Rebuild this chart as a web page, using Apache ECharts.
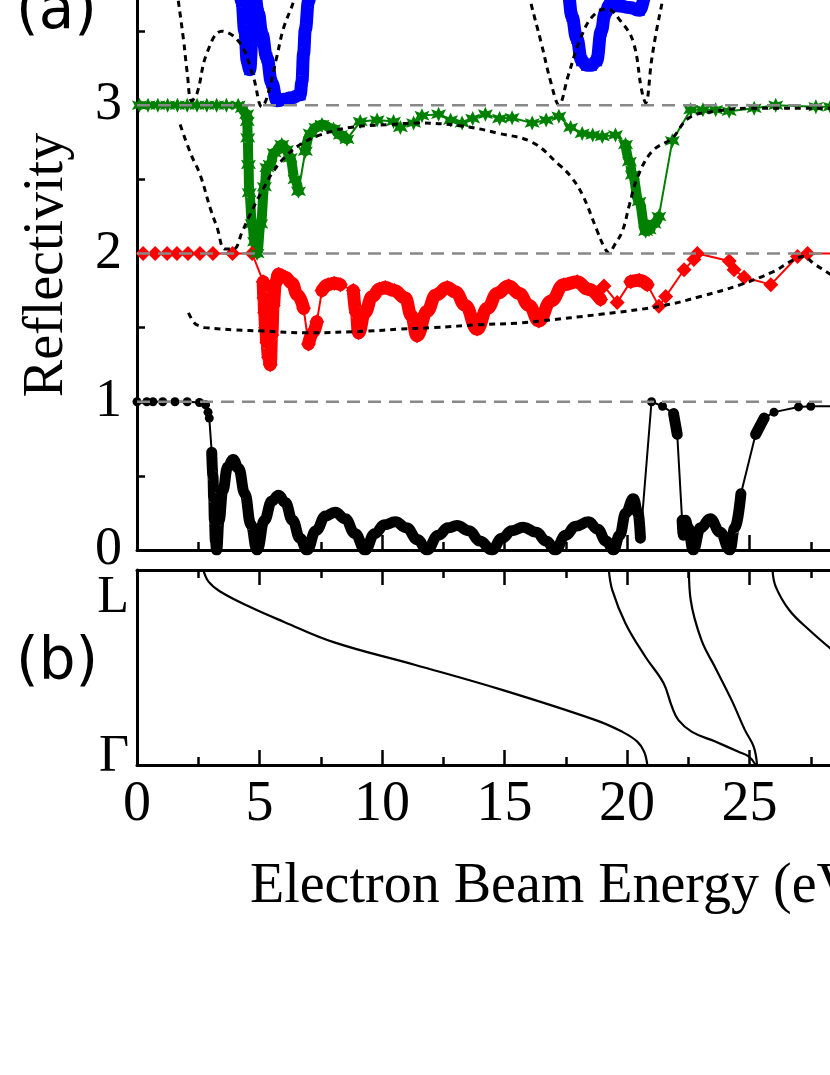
<!DOCTYPE html>
<html>
<head>
<meta charset="utf-8">
<script src="https://cdn.jsdelivr.net/npm/echarts@6/dist/echarts.min.js"></script>
<style>
html, body { margin: 0; padding: 0; width: 830px; height: 1075px; overflow: hidden; background: #fff; }
/* the figure is cropped on the top and right, so the canvas is a bit bigger than the window */
#chart { position: absolute; left: 0; top: -60px; width: 900px; height: 1135px; }
</style>
</head>
<body>
<div id="chart"></div>
<script>
// (a) measured reflectivity, each curve shifted up by 0, 1, 2, 3
const black = [[0,1],[0.4,1],[0.65,1],[1.05,1],[1.55,1],[2.05,1],[2.55,0.995],[2.8,0.98],[2.9,0.93],[2.95,0.89],[3.05,0.66],[3.1,0.5],[3.13,0.35],[3.16,0.2],[3.2,0.06],[3.25,0],[3.35,0.2],[3.5,0.4],[3.7,0.56],[3.92,0.61],[4.15,0.55],[4.4,0.38],[4.65,0.17],[4.9,0],[5.2,0.2],[5.5,0.33],[5.78,0.37],[6.05,0.32],[6.35,0.2],[6.65,0.08],[6.94,0],[7.3,0.13],[7.7,0.23],[8.09,0.255],[8.5,0.21],[8.9,0.11],[9.31,0],[9.7,0.11],[10.1,0.17],[10.54,0.19],[11.0,0.15],[11.45,0.07],[11.83,0],[12.3,0.1],[12.7,0.15],[13.06,0.165],[13.55,0.13],[14.0,0.06],[14.48,0],[14.9,0.08],[15.3,0.13],[15.77,0.154],[16.3,0.12],[16.7,0.06],[17.07,0],[17.5,0.1],[17.9,0.16],[18.43,0.19],[18.8,0.14],[19.15,0.06],[19.45,0],[19.7,0.1],[19.95,0.25],[20.26,0.345],[20.45,0.25],[20.55,0.08],[21.0,1.0],[21.45,0.97],[21.9,0.92],[22.05,0.78],[22.25,0.2],[22.3,0.1],[22.38,0.2],[22.5,0.15],[22.7,0],[23.0,0.15],[23.4,0.21],[23.8,0.12],[24.2,0],[24.4,0.15],[24.65,0.38],[25.25,0.78],[25.6,0.89],[26.0,0.93],[27.0,0.965],[27.5,0.97],[30,0.97]];
const red = [[0.25,2],[0.74,2],[1.23,2],[1.63,2],[2.08,2],[2.57,2],[3.1,2],[3.9,2],[4.7,2],[5.15,1.81],[5.18,1.7],[5.21,1.6],[5.25,1.5],[5.3,1.4],[5.37,1.3],[5.44,1.25],[5.5,1.45],[5.56,1.65],[5.65,1.8],[5.78,1.86],[6.05,1.84],[6.32,1.8],[6.55,1.72],[6.8,1.63],[7.0,1.39],[7.2,1.47],[7.34,1.54],[7.55,1.75],[7.8,1.79],[8.05,1.8],[8.3,1.79],[8.83,1.75],[8.95,1.6],[9.04,1.465],[9.3,1.6],[9.6,1.71],[9.9,1.76],[10.13,1.77],[10.5,1.75],[10.95,1.7],[11.2,1.58],[11.43,1.445],[11.84,1.61],[12.2,1.72],[12.66,1.77],[13.0,1.74],[13.4,1.65],[13.88,1.49],[14.3,1.63],[14.7,1.73],[15.17,1.78],[15.6,1.73],[16.0,1.65],[16.4,1.545],[16.9,1.68],[17.42,1.79],[17.97,1.81],[18.4,1.76],[18.92,1.69],[19.06,1.78],[19.6,1.67],[20.15,1.81],[20.5,1.82],[20.83,1.79],[21.3,1.645],[21.58,1.71],[22.33,1.89],[22.73,1.96],[22.87,2.0],[24.17,1.95],[24.37,1.89],[24.78,1.84],[25.87,1.79],[26.96,1.98],[27.37,2.0],[30,2.0]];
const green = [[0.1,3],[0.45,3],[0.85,3],[1.25,3],[1.65,3],[2.05,3],[2.45,3],[2.85,3],[3.25,3],[3.65,3],[4.13,3],[4.3,2.98],[4.48,2.94],[4.5,2.89],[4.52,2.78],[4.55,2.6],[4.58,2.41],[4.7,2.2],[4.8,2.08],[4.9,2.0],[5.05,2.2],[5.2,2.45],[5.3,2.58],[5.43,2.6],[5.6,2.68],[5.91,2.735],[6.1,2.7],[6.25,2.645],[6.45,2.5],[6.59,2.42],[6.87,2.69],[7.07,2.81],[7.3,2.85],[7.55,2.87],[8.02,2.84],[8.3,2.8],[8.57,2.77],[9.11,2.89],[9.8,2.9],[10.47,2.89],[10.75,2.85],[11.29,2.88],[11.63,2.93],[12.31,2.94],[12.8,2.9],[13.27,2.88],[13.7,2.91],[14.22,2.94],[14.8,2.91],[15.31,2.915],[16.13,2.88],[16.7,2.9],[17.22,2.925],[17.7,2.85],[18.17,2.81],[18.6,2.8],[18.99,2.79],[19.53,2.8],[19.94,2.735],[20.1,2.62],[20.22,2.53],[20.49,2.35],[20.76,2.15],[20.9,2.16],[21.1,2.2],[21.3,2.25],[21.85,2.76],[22.6,2.97],[23.1,2.97],[23.62,2.97],[24.17,2.96],[25.19,2.98],[26.07,3.0],[27.71,2.99],[28.3,2.99],[30,3]];
const blue = [[3.9,3.95],[4.15,3.8],[4.28,3.7],[4.4,3.5],[4.5,3.3],[4.6,3.24],[4.7,3.45],[4.8,3.75],[4.95,3.62],[5.1,3.48],[5.3,3.32],[5.5,3.15],[5.71,3.03],[6.0,3.04],[6.3,3.05],[6.66,3.07],[6.73,3.16],[6.8,3.35],[6.87,3.51],[7.0,3.7],[7.15,3.9],[17.4,3.95],[17.6,3.75],[17.75,3.6],[17.95,3.45],[18.15,3.3],[18.35,3.27],[18.55,3.27],[18.76,3.3],[18.95,3.5],[19.1,3.62],[19.3,3.68],[19.7,3.67],[20.1,3.66],[20.5,3.64],[20.8,3.75],[21.0,3.9]];

// energy ranges where the measured points are so dense they form a thick band
const blackBands = [[3.05, 20.56], [21.85, 22.06], [22.24, 24.66], [25.2, 25.7]];
const redBands = [[5.1, 6.81], [6.99, 7.35], [7.54, 8.31], [8.82, 18.93], [20.1, 20.9]];
const greenBands = [[4.29, 6.6], [6.86, 8.6], [19.93, 21.31]];
const blueBands = [[0, 30]];

// (a) calculated curves (dotted)
const calcRed = [[2.1,1.6],[2.35,1.53],[2.57,1.51],[2.78,1.5],[4.0,1.485],[5.16,1.477],[6.93,1.465],[9.39,1.477],[10.75,1.49],[12.11,1.5],[14.02,1.52],[15.52,1.53],[16.47,1.545],[18.92,1.59],[21.37,1.645],[23.0,1.71],[24.64,1.79],[26.0,1.88],[26.6,1.94],[26.96,1.97],[27.2,1.98],[27.64,1.93],[28.3,1.86],[29,1.78]];
const calcGreen = [[1.76,2.87],[2.2,2.67],[2.58,2.53],[3.0,2.3],[3.26,2.18],[3.6,2.03],[3.94,2.03],[4.3,2.15],[4.75,2.31],[5.1,2.42],[5.57,2.556],[6.1,2.66],[6.66,2.735],[7.48,2.8],[8.7,2.85],[10.34,2.87],[11.36,2.88],[13.27,2.86],[14.77,2.81],[16.13,2.75],[17.22,2.6],[17.7,2.52],[18.17,2.4],[18.79,2.15],[19.05,2.05],[19.26,2.005],[19.5,2.06],[19.81,2.15],[20.1,2.33],[20.42,2.51],[21.03,2.69],[21.85,2.78],[22.53,2.915],[23.62,2.96],[24.98,2.98],[28.3,2.98],[30,2.99]];
const calcBlue = [[1.45,4.0],[1.69,3.7],[1.9,3.44],[2.05,3.22],[2.23,3.03],[2.45,3.08],[2.85,3.35],[3.46,3.5],[4.2,3.42],[4.75,3.19],[5.1,2.99],[5.3,3.05],[5.71,3.33],[5.98,3.52],[6.39,3.7],[6.8,3.95],[15.7,3.95],[16.06,3.7],[16.5,3.42],[16.9,3.15],[17.22,3.005],[17.6,3.2],[18.1,3.45],[18.6,3.6],[19.18,3.65],[19.73,3.57],[20.25,3.43],[20.6,3.1],[20.76,3.016],[21.0,3.3],[21.2,3.5],[21.44,3.7],[21.7,3.95]];
const baselines = [1, 2, 3];

// (b) band structure, 0 = Γ, 1 = top of panel
const band1 = [[2.71,1.0],[2.92,0.94],[3.39,0.89],[4.62,0.81],[5.98,0.735],[8.02,0.63],[11.36,0.513],[14.9,0.385],[18.72,0.23],[19.81,0.17],[20.42,0.12],[20.7,0.068],[20.83,0.0]];
const band2 = [[19.26,1.0],[19.4,0.897],[19.94,0.726],[20.75,0.555],[21.49,0.42],[21.83,0.3],[22.1,0.23],[22.65,0.17],[23.6,0.12],[24.55,0.068],[24.98,0.043],[25.25,0]];
const band3 = [[22.53,1.0],[22.6,0.846],[23.04,0.64],[23.6,0.5],[24.28,0.33],[24.81,0.18],[25.17,0.094],[25.31,0]];
const band4 = [[25.94,1.0],[26.07,0.915],[26.62,0.795],[27.44,0.692],[28.3,0.598],[29.0,0.53]];

const OFF = 60; // canvas top offset
const serif = 'Liberation Serif';

// keep only points inside a dense range, with a gap wherever the range changes
function thickData(data, bands) {
  const idx = p => bands.findIndex(b => p[0] >= b[0] && p[0] <= b[1]);
  const out = [];
  data.forEach((p, i) => {
    const k = idx(p);
    if (i > 0 && k !== idx(data[i - 1])) out.push([(p[0] + data[i - 1][0]) / 2, '-']);
    out.push(k >= 0 ? p : [p[0], '-']);
  });
  return out;
}

function measured(data, bands, color, symbol, size, width) {
  return [
    {
      type: 'line', data: data, symbol: symbol, symbolSize: size, showSymbol: true,
      itemStyle: { color: color }, lineStyle: { color: color, width: 2 }
    },
    {
      type: 'line', data: thickData(data, bands), showSymbol: false, smooth: 0.45, smoothMonotone: 'x',
      lineStyle: { color: color, width: width, cap: 'round', join: 'round' }
    }
  ];
}

function calc(data) {
  return {
    type: 'line', data: data, showSymbol: false, smooth: 0.4, z: 5,
    lineStyle: { color: '#000', width: 3, type: [6, 5] }
  };
}

function bandLine(data) {
  return {
    type: 'line', data: data, showSymbol: false, smooth: 0.4,
    xAxisIndex: 1, yAxisIndex: 1,
    lineStyle: { color: '#000', width: 2.2 }
  };
}

const star = 'path://M50,0 L62,30 L93,18 L78,50 L93,82 L62,70 L50,100 L38,70 L7,82 L22,50 L7,18 L38,30 Z';

const tick = { inside: true, length: 15, lineStyle: { color: '#000', width: 2.5 } };
const minor = { show: true, splitNumber: 2, length: 8, lineStyle: { color: '#000', width: 2.5 } };
const line = { show: true, onZero: false, lineStyle: { color: '#000', width: 3 } };

function xAxis(grid, labels, pos) {
  return {
    gridIndex: grid, type: 'value', min: 0, max: 30, interval: 5, position: pos,
    axisLine: line, axisTick: tick, minorTick: minor, splitLine: { show: false },
    axisLabel: { show: labels, fontFamily: serif, fontSize: 56, color: '#000', margin: 12 }
  };
}

const series = [].concat(
  measured(black, blackBands, '#000', 'circle', 9, 11),
  measured(red, redBands, '#ff0000', 'diamond', 15, 13),
  measured(green, greenBands, '#008000', star, 15, 10),
  measured(blue, blueBands, '#0000ff', 'rect', 11, 13),
  [calc(calcRed), calc(calcGreen), calc(calcBlue)],
  baselines.map(v => ({
    type: 'line', data: [[0, v], [30, v]], showSymbol: false, z: 6,
    lineStyle: { color: '#888', width: 2.5, type: [13, 8] }
  })),
  [bandLine(band1), bandLine(band2), bandLine(band3), bandLine(band4)]
);

function label(text, x, y, font, align, rot) {
  return {
    type: 'text', x: x, y: y, rotation: rot || 0,
    style: { text: text, x: 0, y: 0, font: font, fill: '#000',
      align: align, verticalAlign: 'middle', textAlign: align, textVerticalAlign: 'middle' }
  };
}

const chart = echarts.init(document.getElementById('chart'));
chart.setOption({
  animation: false,
  backgroundColor: '#fff',
  grid: [
    { left: 137, top: 17, width: 735, height: 593, outerBoundsMode: 'none', containLabel: false },
    { left: 137, top: 630, width: 735, height: 195, outerBoundsMode: 'none', containLabel: false }
  ],
  xAxis: [xAxis(0, false, 'bottom'), xAxis(1, true, 'bottom'), xAxis(1, false, 'top')],
  yAxis: [
    {
      gridIndex: 0, type: 'value', min: 0, max: 4, interval: 1,
      axisLine: line, axisTick: tick, minorTick: minor, splitLine: { show: false },
      axisLabel: { fontFamily: serif, fontSize: 54, color: '#000', margin: 15 }
    },
    {
      gridIndex: 1, type: 'value', min: 0, max: 1,
      axisLine: line, axisTick: { show: false }, axisLabel: { show: false }, splitLine: { show: false }
    }
  ],
  series: series,
  graphic: [
    label('(a)', 16, 13 + OFF, '58px "DejaVu Sans"', 'left'),
    label('(b)', 16, 664 + OFF, '58px "DejaVu Sans"', 'left'),
    label('L', 129, 598 + OFF, '52px "Liberation Serif"', 'right'),
    label('Γ', 129, 757 + OFF, '52px "Liberation Serif"', 'right'),
    label('Reflectivity', 47, 265 + OFF, '56px "Liberation Serif"', 'center', Math.PI / 2),
    label('Electron Beam Energy (eV)', 250, 887 + OFF, '56px "Liberation Serif"', 'left')
  ]
});
</script>
</body>
</html>
